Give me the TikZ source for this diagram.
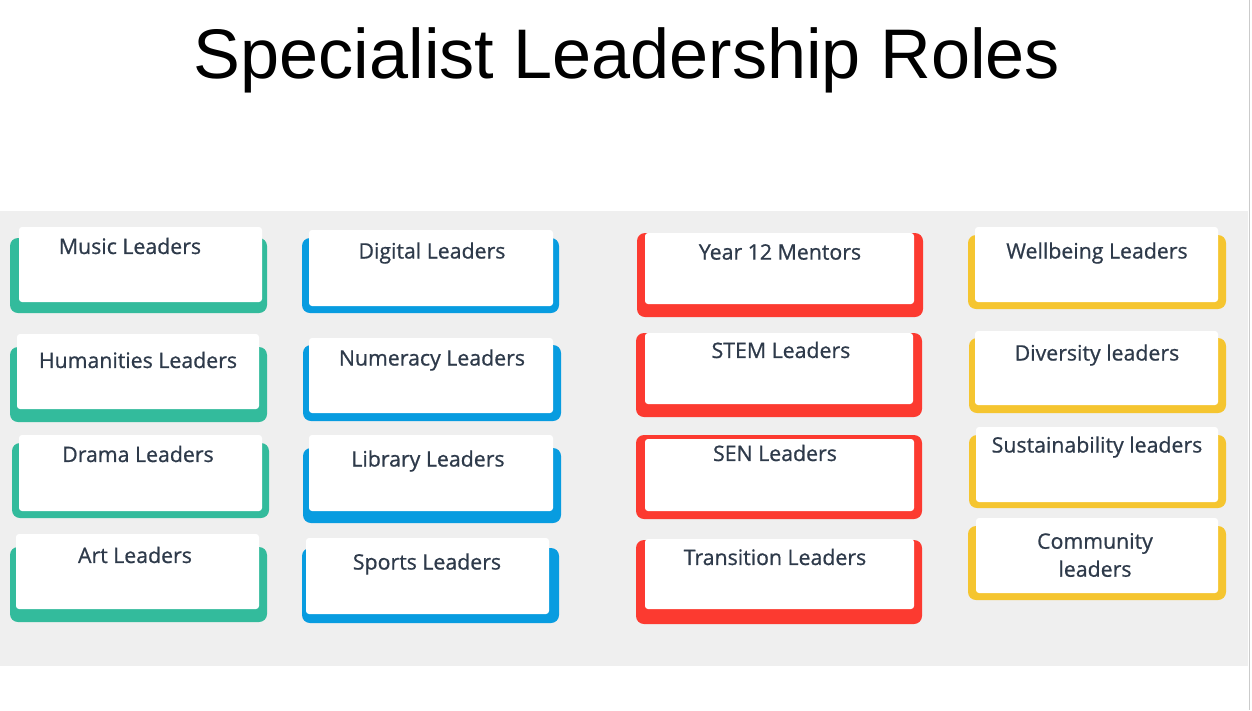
\documentclass[tikz,border=0pt]{standalone}
\usepackage{fontspec}
\setmainfont{Liberation Sans}
\newfontfamily\boxfont[FakeBold=0.8]{Open Sans}
\definecolor{bandgray}{RGB}{239,239,239}
\definecolor{cgreen}{RGB}{51,187,156}
\definecolor{cblue}{RGB}{8,156,224}
\definecolor{cred}{RGB}{252,58,48}
\definecolor{cyellow}{RGB}{245,197,48}
\definecolor{txt}{RGB}{46,58,74}
\begin{document}
\begin{tikzpicture}[x=1pt,y=-1pt,
  back/.style={rounded corners=8pt},
  front/.style={fill=white,rounded corners=3pt},
  lbl/.style={text=txt,font=\boxfont\fontsize{21.3}{28}\selectfont,inner sep=0pt,align=center,anchor=center}]
\useasboundingbox (0,0) rectangle (1252,710);
\fill[white] (0,0) rectangle (1252,710);
\fill[bandgray] (0,211) rectangle (1248,666);
\draw[bandgray!85!black,line width=0.8pt] (1249,0) -- (1249,710);
\node[font=\fontsize{70.2}{76}\selectfont,inner sep=0pt,anchor=base] (title) at (627,78) {Specialist Leadership Roles};
% green column
\fill[cgreen,back] (10,238) rectangle (267,313);
\fill[front] (19,227) rectangle (262,302);
\node[lbl] (music) at (130,246) {Music Leaders};
\fill[cgreen,back] (10,347) rectangle (267,422);
\fill[front] (17,334) rectangle (259,409);
\node[lbl] (hum) at (138,360) {Humanities Leaders};
\fill[cgreen,back] (12,443) rectangle (269,518);
\fill[front] (19,435) rectangle (262,511);
\node[lbl] (drama) at (138,454) {Drama Leaders};
\fill[cgreen,back] (10,547) rectangle (267,622);
\fill[front] (16,534) rectangle (259,609);
\node[lbl] (art) at (135,555) {Art Leaders};
% blue column
\fill[cblue,back] (302,238) rectangle (559,313);
\fill[front] (309,230) rectangle (553,306);
\node[lbl] (digital) at (432,253) {Digital Leaders};
\fill[cblue,back] (303,345) rectangle (561,421);
\fill[front] (309,338) rectangle (553,413);
\node[lbl] (numeracy) at (432,360) {Numeracy Leaders};
\fill[cblue,back] (303,448) rectangle (561,523);
\fill[front] (309,435) rectangle (553,511);
\node[lbl] (library) at (428,461) {Library Leaders};
\fill[cblue,back] (302,548) rectangle (559,623);
\fill[front] (306,538) rectangle (549,614);
\node[lbl] (sports) at (427,564) {Sports Leaders};
% red column
\fill[cred,back] (637,233) rectangle (923,317);
\fill[front] (645,233) rectangle (914,304);
\node[lbl] (year12) at (780,252) {Year 12 Mentors};
\fill[cred,back] (636,333) rectangle (922,417);
\fill[front] (645,333) rectangle (913,404);
\node[lbl] (stem) at (781,350) {STEM Leaders};
\fill[cred,back] (636,435) rectangle (922,519);
\fill[front] (645,439) rectangle (914,511);
\node[lbl] (sen) at (775,453) {SEN Leaders};
\fill[cred,back] (636,540) rectangle (922,624);
\fill[front] (645,539) rectangle (914,609);
\node[lbl] (transition) at (775,557) {Transition Leaders};
% yellow column
\fill[cyellow,back] (968,235) rectangle (1226,309);
\fill[front] (975,227) rectangle (1218,302);
\node[lbl] (wellbeing) at (1097,253) {Wellbeing Leaders};
\fill[cyellow,back] (969,338) rectangle (1226,413);
\fill[front] (975,331) rectangle (1218,405);
\node[lbl] (diversity) at (1097,355) {Diversity leaders};
\fill[cyellow,back] (969,435) rectangle (1226,508);
\fill[front] (976,427) rectangle (1218,502);
\node[lbl] (sustain) at (1097,447) {Sustainability leaders};
\fill[cyellow,back] (968,526) rectangle (1226,600);
\fill[front] (976,518) rectangle (1218,593);
\node[lbl] (community) at (1095,555) {Community\\leaders};
\end{tikzpicture}
\end{document}
